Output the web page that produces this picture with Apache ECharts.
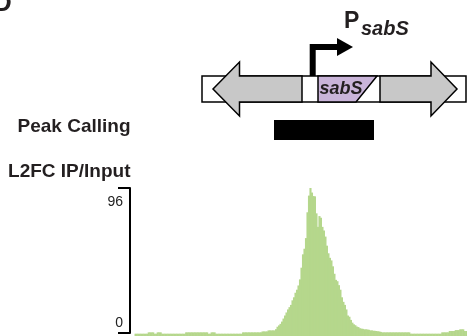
<!DOCTYPE html>
<html><head><meta charset="utf-8">
<script src="https://cdn.jsdelivr.net/npm/echarts@6/dist/echarts.min.js"></script>
<style>html,body{margin:0;padding:0;background:#fff}#c{width:467px;height:336px}</style>
</head><body><div id="c"></div>
<script>
// L2FC IP/Input signal per genomic bin
const values = [
  0,0,0,0,0,0,0,0,0,
  0.9,0.9,0.9,0.9,
  0,0,
  0.9,0.9,0.9,
  0,0,0,0,0,0,0,0,0,0,0,0,0,0,0,0,
  0.9,0.9,0.9,0.9,0.9,0.9,0.9,0.9,0.9,0.9,0.9,0.9,0.9,0.9,0.9,
  0,0,
  0.9,0.9,0.9,
  0,0,0,0,0,0,0,0,0,0,0,0,0,0,0,0,0,0,
  0.9,0.9,0.9,0.9,0.9,0.9,0.9,0.9,0.9,0.9,0.9,0.9,0.9,
  1.5,1.5,1.5,1.5,
  2.2,2.2,2.2,2.2,2.2,
  3.0,
  4.6,5.5,6.5,8,10,12,14,16,17.5,
  19,22,24,27,29,31.8,35.8,43.5,52.3,56,63,80,91,96,93,90.7,90.5,79.3,70.4,77.5,
  76.4,70.4,68,64,58,53,50,48.3,44.4,39.5,35.5,34.6,32,29,24,21,19,16,12,11.2,
  9.1,7.3,6.2,5.6,4.7,4.4,3.6,3.4,3.2,2.9,2.9,2.8,2.6,2.2,2.2,2.0,1.9,1.8,1.6,1.5,1.2,
  0.9,0.9,0.9,0.9,0.9,0.9,0.9,0.9,0.9,0.9,0.9,0.9,0.9,0.9,0.9,0.9,0.9,0.9,0.9,
  0,0,0,0,0,0,0,0,0,0,0,0,0,0,0,0,0,0,0,0,0,
  0.9,0.9,0.9,0.9,0.9,
  1.8,1.8,1.8,1.8,
  2.4,2.4,2.4,
  2.9,2.9,2.9,
  1.8,1.8
];
const categories = values.map((_, i) => 'bin ' + (i + 1));
const yTicks = [0, 96];
const trackBottom = -1.5;
const trackTitle = 'L2FC IP/Input';
const peakTitle = 'Peak Calling';
const geneName = 'sabS';
const promoterMain = 'P';

const FONT = '"Liberation Sans", Arial, Helvetica, sans-serif';
const INK = '#231f20';
const GREY = '#c8c8c8';
const PURPLE = '#c9b4d9';
const GREEN = '#b5d78c';

const chart = echarts.init(document.getElementById('c'), null, {renderer: 'canvas'});
chart.setOption({
  animation: false,
  backgroundColor: '#ffffff',
  grid: [
    {left: 134.5, top: 188, width: 333, bottom: 0},
    {left: 130, top: 188, width: 2, bottom: 3}
  ],
  xAxis: [
    {type: 'category', data: categories, gridIndex: 0, show: false},
    {type: 'value', gridIndex: 1, show: false}
  ],
  yAxis: [
    {type: 'value', gridIndex: 0, min: trackBottom, max: yTicks[1], startValue: trackBottom, show: false},
    {type: 'value', gridIndex: 1, min: yTicks[0], max: yTicks[1], interval: yTicks[1] - yTicks[0],
      position: 'left',
      axisLine: {show: true, lineStyle: {color: '#000', width: 2}},
      axisTick: {show: true, length: 12, lineStyle: {color: '#000', width: 2}},
      splitLine: {show: false},
      axisLabel: {
        margin: 7, color: '#222', fontFamily: FONT, fontSize: 14,
        formatter: v => (v === yTicks[1] ? '{hi|' + v + '}' : '{lo|' + v + '}'),
        rich: {
          hi: {fontSize: 14, fontFamily: FONT, color: '#222', padding: [28, 0, 0, 0]},
          lo: {fontSize: 14, fontFamily: FONT, color: '#222', padding: [0, 0, 19, 0]}
        }
      }
    }
  ],
  series: [{
    type: 'bar', data: values, xAxisIndex: 0, yAxisIndex: 0,
    barWidth: 2.1, barGap: '-100%', silent: true,
    itemStyle: {color: GREEN}
  }],
  graphic: [
    {type: 'text', style: {text: 'D', x: -7, y: 4, fill: INK, font: 'bold 26px ' + FONT, align: 'left', verticalAlign: 'middle'}},
    {type: 'text', style: {text: peakTitle, x: 130.5, y: 127, fill: INK, font: 'bold 19px ' + FONT, align: 'right', verticalAlign: 'middle'}},
    {type: 'text', style: {text: trackTitle, x: 130.5, y: 171.5, fill: INK, font: 'bold 19px ' + FONT, align: 'right', verticalAlign: 'middle'}},
    {type: 'rect', shape: {x: 274, y: 120, width: 100, height: 20}, style: {fill: '#000'}},
    {type: 'rect', shape: {x: 202, y: 76, width: 264, height: 26}, style: {fill: '#fff', stroke: '#000', lineWidth: 1.5}},
    {type: 'polygon', shape: {points: [[213, 89], [239.5, 62], [239.5, 76], [302, 76], [302, 102], [239.5, 102], [239.5, 116]]},
      style: {fill: GREY, stroke: '#000', lineWidth: 1.5}},
    {type: 'polygon', shape: {points: [[318, 76], [377, 76], [356, 102], [318, 102]]},
      style: {fill: PURPLE, stroke: '#000', lineWidth: 1.5}},
    {type: 'polygon', shape: {points: [[380, 76], [431, 76], [431, 62], [457, 89], [431, 116], [431, 102], [380, 102]]},
      style: {fill: GREY, stroke: '#000', lineWidth: 1.5}},
    {type: 'text', style: {text: geneName, x: 319.5, y: 89, fill: INK, font: 'italic bold 18px ' + FONT, align: 'left', verticalAlign: 'middle'}},
    {type: 'polyline', shape: {points: [[312.7, 76], [312.7, 47], [339, 47]]},
      style: {stroke: '#000', lineWidth: 6, fill: null, lineJoin: 'miter', lineCap: 'butt'}},
    {type: 'polygon', shape: {points: [[337, 38], [353, 47], [337, 56]]}, style: {fill: '#000'}},
    {type: 'text', style: {text: promoterMain, x: 344, y: 22, fill: INK, font: 'bold 23px ' + FONT, align: 'left', verticalAlign: 'middle'}},
    {type: 'text', style: {text: geneName, x: 361, y: 29.5, fill: INK, font: 'italic bold 20px ' + FONT, align: 'left', verticalAlign: 'middle'}}
  ]
});
</script>
</body></html>
